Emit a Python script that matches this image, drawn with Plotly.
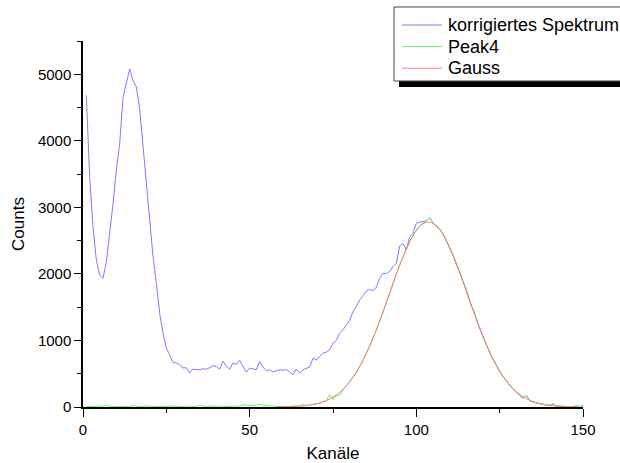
import plotly.graph_objects as go

# Kanalnummern 1..150
channels = list(range(1, 151))

# korrigiertes Spektrum, Kanäle 1..103 (ab Kanal 104 identisch mit Peak4)
spectrum_low = [
    4685, 3460, 2710, 2210, 1985, 1935, 2180, 2580, 3050, 3560,
    3950, 4650, 4880, 5080, 4910, 4810, 4480, 3910, 3310, 2740,
    2260, 1860, 1410, 1110, 885, 785, 670, 660, 640, 585,
    590, 510, 570, 560, 560, 575, 570, 590, 620, 610,
    565, 690, 610, 570, 660, 640, 700, 610, 525, 585,
    575, 560, 680, 600, 545, 560, 525, 545, 560, 555,
    560, 530, 485, 570, 510, 560, 580, 600, 735, 705,
    760, 810, 825, 860, 960, 1000, 1110, 1160, 1235, 1300,
    1435, 1510, 1610, 1685, 1740, 1770, 1745, 1800, 1935, 2010,
    2005, 2040, 2110, 2160, 2420, 2460, 2360, 2560, 2610, 2760,
    2780, 2785, 2800,
]

# Peak4, Kanäle 1..150
peak4 = [
    5, 10, 8, 12, 15, 10, 30, 12, 8, 10,
    5, 10, 12, 8, 25, 10, 12, 8, 20, 10,
    5, 8, 10, 6, 12, 8, 10, 15, 8, 5,
    10, 12, 8, 10, 25, 12, 8, 15, 10, 8,
    12, 10, 5, 8, 10, 12, 15, 35, 30, 25,
    20, 30, 40, 25, 20, 15, 10, 5, 8, 10,
    5, 12, 8, 15, 12, 38, 22, 30, 40, 48,
    58, 78, 95, 185, 110, 170, 175, 255, 320, 370,
    450, 525, 610, 700, 820, 905, 1040, 1150, 1290, 1440,
    1570, 1700, 1860, 2000, 2130, 2250, 2380, 2480, 2580, 2660,
    2720, 2760, 2790, 2850, 2770, 2720, 2680, 2600, 2490, 2400,
    2280, 2150, 2030, 1880, 1760, 1590, 1470, 1330, 1180, 1050,
    940, 820, 720, 620, 540, 460, 390, 330, 270, 225,
    180, 130, 180, 95, 75, 60, 50, 40, 30, 25,
    48, 15, 12, 8, 5, 6, 3, 18, 4, 20,
]

spectrum = spectrum_low + peak4[len(spectrum_low):]

# Gauss-Anpassung an Peak4
gauss_channels = list(range(58, 150, 2))
gauss_counts = [
    2, 3, 6, 10, 17, 29, 48, 77, 120, 180,
    264, 376, 521, 700, 914, 1160, 1431, 1715, 1997, 2259,
    2484, 2654, 2754, 2778, 2723, 2593, 2400, 2158, 1885, 1600,
    1320, 1058, 824, 624, 459, 328, 228, 154, 101, 64,
    40, 24, 14, 8, 4, 2,
]

series_names = ["korrigiertes Spektrum", "Peak4", "Gauss"]
series_colors = ["#7c7cff", "#6cf06c", "#ff7878"]

FONT = "Liberation Sans, Arial, sans-serif"

fig = go.Figure()
fig.add_trace(go.Scatter(x=channels, y=spectrum, mode="lines",
                         line=dict(color=series_colors[0], width=1),
                         name=series_names[0]))
fig.add_trace(go.Scatter(x=channels, y=peak4, mode="lines",
                         line=dict(color=series_colors[1], width=1),
                         name=series_names[1]))
fig.add_trace(go.Scatter(x=gauss_channels, y=gauss_counts, mode="lines",
                         line=dict(color=series_colors[2], width=1, shape="spline"),
                         name=series_names[2]))

# Plotbereich in Pixeln
L, R, T, B = 83, 37, 41, 56
W, H = 620, 463
pw, ph = W - L - R, H - T - B


def px(x):
    return (x - L) / pw


def py(y):
    return (H - B - y) / ph


# Legende mit Schatten
shapes = [
    dict(type="rect", xref="paper", yref="paper",
         x0=px(399), x1=px(640), y0=py(87), y1=py(12),
         fillcolor="black", line=dict(width=0), layer="above"),
    dict(type="rect", xref="paper", yref="paper",
         x0=px(394), x1=px(635), y0=py(81), y1=py(7),
         fillcolor="white", line=dict(color="#444", width=1), layer="above"),
]
annotations = []
for i, (name, col) in enumerate(zip(series_names, series_colors)):
    yy = 25 + i * 21.6
    shapes.append(dict(type="line", xref="paper", yref="paper",
                       x0=px(402), x1=px(442), y0=py(yy), y1=py(yy),
                       line=dict(color=col, width=1), layer="above"))
    annotations.append(dict(xref="paper", yref="paper", x=px(446), y=py(yy),
                            xanchor="left", yanchor="middle", showarrow=False,
                            text=name, font=dict(family=FONT, size=18, color="black")))

fig.update_layout(
    width=W, height=H,
    margin=dict(l=L, r=R, t=T, b=B, autoexpand=False),
    paper_bgcolor="white", plot_bgcolor="white",
    showlegend=False,
    shapes=shapes, annotations=annotations,
    font=dict(family=FONT, color="black"),
)
fig.update_xaxes(
    range=[0, 150], dtick=50, tick0=0,
    showgrid=False, zeroline=False,
    showline=True, linecolor="black", linewidth=1.5,
    ticks="outside", ticklen=8, tickwidth=1.2, tickcolor="black",
    minor=dict(ticks="outside", ticklen=4, dtick=25, tickcolor="black", tickwidth=1.2),
    tickfont=dict(family=FONT, size=15, color="black"),
    title=dict(text="Kanäle", font=dict(family=FONT, size=17, color="black"), standoff=12),
)
fig.update_yaxes(
    range=[0, 5500], dtick=1000, tick0=0,
    showgrid=False, zeroline=False,
    showline=True, linecolor="black", linewidth=1.5,
    ticks="outside", ticklen=7, tickwidth=1.2, tickcolor="black",
    minor=dict(ticks="outside", ticklen=4, dtick=500, tickcolor="black", tickwidth=1.2),
    tickfont=dict(family=FONT, size=15, color="black"),
    title=dict(text="Counts", font=dict(family=FONT, size=17, color="black"), standoff=9),
)

fig.write_html("out.html")
